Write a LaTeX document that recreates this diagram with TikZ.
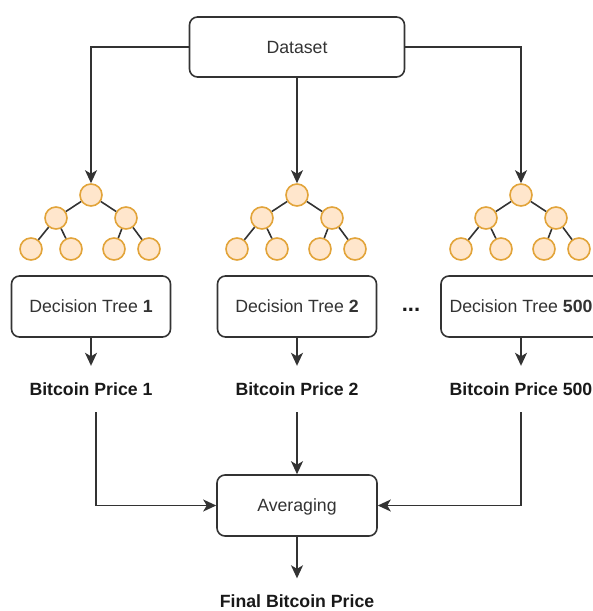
\documentclass[tikz,border=0pt]{standalone}
\usepackage{fontspec}
\setmainfont{Liberation Sans}
\usetikzlibrary{arrows.meta}
\definecolor{linec}{HTML}{333333}
\definecolor{tfill}{HTML}{FFE6CC}
\definecolor{tdraw}{HTML}{E2A43A}
\begin{document}
\begin{tikzpicture}[x=1pt,y=-1pt,
  box/.style={draw=linec, line width=1.6pt, rounded corners=8pt, minimum width=160pt,
    minimum height=61pt, inner sep=0pt, text height=12.7pt, text depth=0pt,
    font=\fontsize{17.7}{21}\selectfont, text=linec},
  lbl/.style={inner sep=0pt, minimum height=46pt, text height=12.7pt, text depth=0pt,
    font=\fontsize{17.7}{21}\selectfont\bfseries, text=black!90},
  arr/.style={draw=linec, line width=1.6pt, -{Stealth[length=13pt,width=12pt,inset=3.5pt]}},
  tn/.style={circle, draw=tdraw, fill=tfill, line width=1.6pt, minimum size=22pt, inner sep=0pt},
  te/.style={draw=linec, line width=1.6pt}]
\useasboundingbox (0,0) rectangle (593,611);
\clip (0,0) rectangle (593,611);

% trees
\foreach \i/\x in {1/91,2/297,3/521} {
  \node[tn] (r\i) at (\x,195) {};
  \node[tn] (a\i) at (\x-35,218) {};
  \node[tn] (b\i) at (\x+35,218) {};
  \node[tn] (c\i) at (\x-60,249) {};
  \node[tn] (d\i) at (\x-20,249) {};
  \node[tn] (e\i) at (\x+23,249) {};
  \node[tn] (f\i) at (\x+58,249) {};
  \draw[te] (r\i) -- (a\i);
  \draw[te] (r\i) -- (b\i);
  \draw[te] (a\i) -- (c\i);
  \draw[te] (a\i) -- (d\i);
  \draw[te] (b\i) -- (e\i);
  \draw[te] (b\i) -- (f\i);
}

\node[box, minimum width=215pt, minimum height=60pt] (ds) at (297,47) {Dataset};

\node[box, minimum width=159pt] (dt1) at (91,306.5) {Decision Tree \textbf{1}};
\node[box, minimum width=159pt] (dt2) at (297,306.5) {Decision Tree \textbf{2}};
\node[box, minimum width=160pt] (dt3) at (521,306.5) {Decision Tree \textbf{500}};
\node[anchor=base, inner sep=0pt, font=\fontsize{22}{24}\selectfont\bfseries, text=black!90] (dots) at (411,311) {...};

\node[lbl] (bp1) at (91,389) {Bitcoin Price 1};
\node[lbl] (bp2) at (297,389) {Bitcoin Price 2};
\node[lbl] (bp3) at (521,389) {Bitcoin Price 500};

\node[box] (avg) at (297,505.5) {Averaging};
\node[lbl] (fin) at (297,601.5) {Final Bitcoin Price};

\draw[arr] (ds.west) -| (r1.north);
\draw[arr] (ds.south) -- (r2.north);
\draw[arr] (ds.east) -| (r3.north);

\draw[arr] (dt1.south) -- (bp1.north);
\draw[arr] (dt2.south) -- (bp2.north);
\draw[arr] (dt3.south) -- (bp3.north);

\draw[arr] ([xshift=5pt]bp1.south) |- (avg.west);
\draw[arr] (bp2.south) -- (avg.north);
\draw[arr] (bp3.south) |- (avg.east);
\draw[arr] (avg.south) -- (fin.north);
\end{tikzpicture}
\end{document}
